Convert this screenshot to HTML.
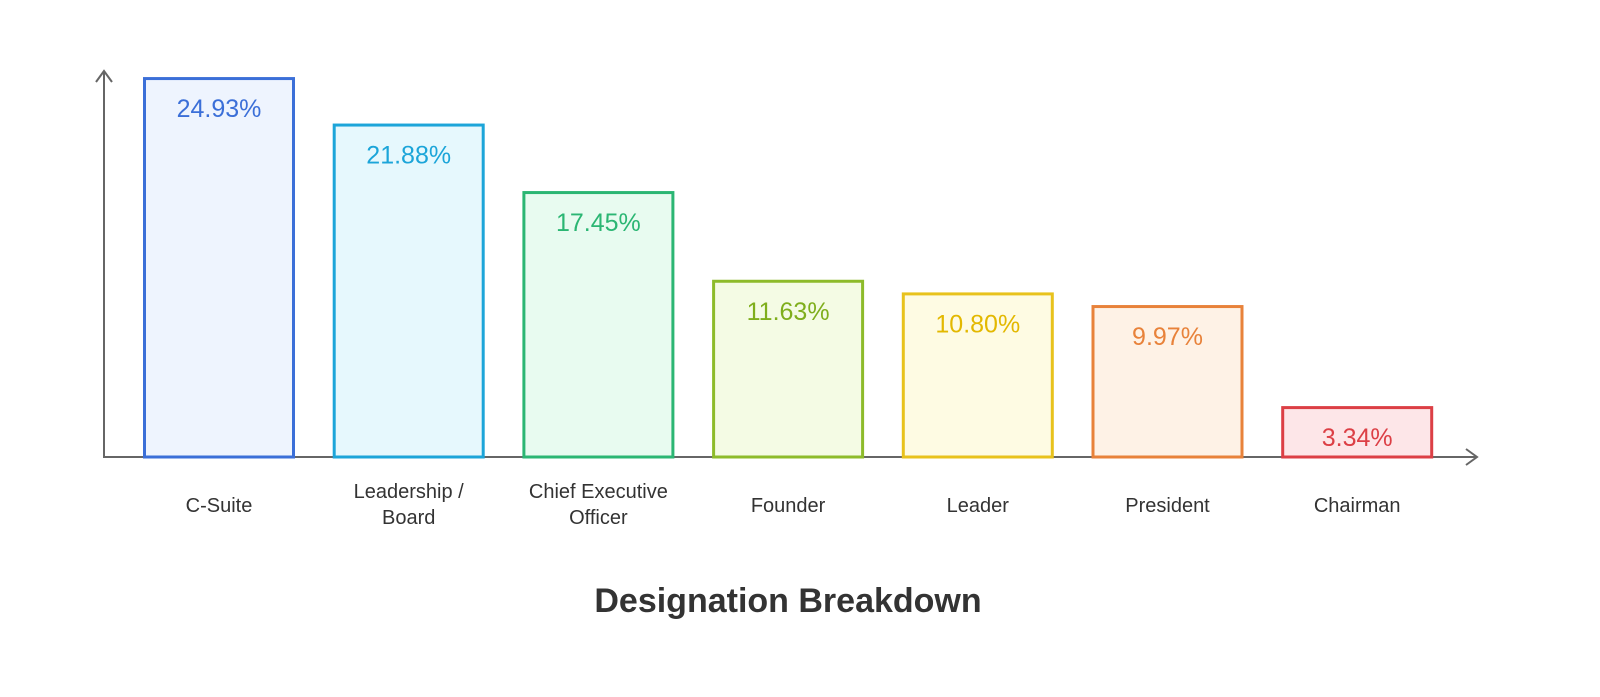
<!DOCTYPE html>
<html><head><meta charset="utf-8"><style>
html,body{margin:0;padding:0;background:#fff;width:1600px;height:697px;overflow:hidden}
svg{display:block;font-family:"Liberation Sans",sans-serif}
</style></head><body>
<svg id="chart" width="1600" height="697">
<g id="axes">
<line x1="104" y1="72" x2="104" y2="458" stroke="#666" stroke-width="2"/>
<polyline points="96,82 104,71 112,82" fill="none" stroke="#666" stroke-width="2"/>
<line x1="104" y1="457" x2="1477" y2="457" stroke="#666" stroke-width="2"/>
<polyline points="1466,449 1477,457 1466,465" fill="none" stroke="#666" stroke-width="2"/>
</g>
<g id="bars"></g>
<text x="788" y="612" text-anchor="middle" font-size="34" font-weight="bold" fill="#333">Designation Breakdown</text>
</svg>
<script>
const categories = [["C-Suite"],["Leadership /","Board"],["Chief Executive","Officer"],["Founder"],["Leader"],["President"],["Chairman"]];
const values = [24.93, 21.88, 17.45, 11.63, 10.80, 9.97, 3.34];
const valueLabels = ["24.93%","21.88%","17.45%","11.63%","10.80%","9.97%","3.34%"];
const strokes = ["#3b6fd8","#1ca5d9","#2bb673","#8dbb2a","#e8c21c","#e8823a","#dc3f45"];
const fills = ["#eef4fe","#e6f8fd","#e8fbf0","#f4fbe4","#fefbe3","#fef2e6","#fde6e8"];
const textCols = ["#3b6fd8","#1ca5d9","#2bb673","#7fae1c","#e3b800","#e8823a","#dc3f45"];
const NS="http://www.w3.org/2000/svg";
const baseY=457, pxPerUnit=15.24, x0=143, step=189.7, bw=152;
const xPos=i=>x0+i*step;
const yPos=v=>baseY-v*pxPerUnit;
const g=document.getElementById('bars');
values.forEach((v,i)=>{
  const r=document.createElementNS(NS,'rect');
  
  
  r.setAttribute('x',xPos(i)+1.5);r.setAttribute('y',yPos(v)+1.5);
  r.setAttribute('width',bw-3);r.setAttribute('height',v*pxPerUnit-1.5);
  r.setAttribute('fill',fills[i]);r.setAttribute('stroke',strokes[i]);r.setAttribute('stroke-width','3');
  g.appendChild(r);
  const t=document.createElementNS(NS,'text');
  
  
  t.setAttribute('x',xPos(i)+bw/2);t.setAttribute('y',yPos(v)+40);
  t.setAttribute('text-anchor','middle');t.setAttribute('font-size','25');t.setAttribute('fill',textCols[i]);
  t.textContent=valueLabels[i];g.appendChild(t);
  categories[i].forEach((line,j)=>{
    const c=document.createElementNS(NS,'text');
    
    
    c.setAttribute('x',xPos(i)+bw/2);
    c.setAttribute('y',(categories[i].length>1?498:512)+j*26);
    c.setAttribute('text-anchor','middle');c.setAttribute('font-size','20');c.setAttribute('fill','#333');
    c.textContent=line;g.appendChild(c);
  });
});
</script>
</body></html>
